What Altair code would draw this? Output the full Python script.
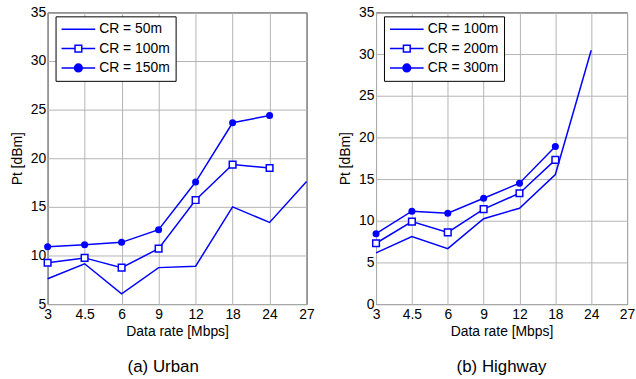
import altair as alt
import pandas as pd

# Data rates on the x axis (evenly spaced categories)
rates = ["3", "4.5", "6", "9", "12", "18", "24", "27"]

# Urban scenario: transmit power [dBm] per coverage range
urban_names = ["CR = 50m", "CR = 100m", "CR = 150m"]
urban_cr50 = [7.6, 9.15, 6.05, 8.75, 8.9, 15.0, 13.4, 17.6]
urban_cr100 = [9.25, 9.75, 8.75, 10.7, 15.7, 19.35, 19.0]
urban_cr150 = [10.9, 11.1, 11.35, 12.65, 17.55, 23.65, 24.4]

# Highway scenario
highway_names = ["CR = 100m", "CR = 200m", "CR = 300m"]
highway_cr100 = [6.15, 8.1, 6.65, 10.25, 11.5, 15.55, 30.45]
highway_cr200 = [7.3, 9.9, 8.6, 11.4, 13.3, 17.3]
highway_cr300 = [8.45, 11.15, 10.9, 12.7, 14.5, 18.9]

BLUE = "#0000ff"
FONT = "Liberation Sans"

# Legend glyphs: plain line, line with open square, line with filled circle
LEGEND_PATHS = [
    "M-1,0H1",
    "M-1,0H-0.2M0.2,0H1M-0.2,-0.2H0.2V0.2H-0.2Z",
    "M-1,0H1M0.23,0A0.23,0.23 0 1,1 -0.23,0A0.23,0.23 0 1,1 0.23,0Z",
]


def long_table(names, series):
    rows = []
    for name, vals in zip(names, series):
        for r, v in zip(rates, vals):
            rows.append({"rate": r, "pt": v, "series": name})
    return pd.DataFrame(rows)


def panel(names, series, ymin, caption, dx, width):
    df = long_table(names, series)
    base = alt.Chart(df)
    x = alt.X(
        "rate:O",
        sort=rates,
        scale=alt.Scale(type="point", padding=0, domain=rates),
        axis=alt.Axis(title="Data rate [Mbps]", labelAngle=0, grid=True,
                      ticks=False, labelPadding=4, titlePadding=3),
    )
    y = alt.Y(
        "pt:Q",
        scale=alt.Scale(domain=[ymin, 35], nice=False, zero=False),
        axis=alt.Axis(title="Pt [dBm]", values=list(range(ymin, 36, 5)),
                      grid=True, ticks=False, labelPadding=2, titlePadding=6),
    )
    lines = base.mark_line(color=BLUE, strokeWidth=1.5).encode(
        x=x, y=y, detail="series:N"
    )
    squares = (
        base.transform_filter(alt.datum.series == names[1])
        .mark_point(shape="square", filled=True, fill="white", stroke=BLUE,
                    strokeWidth=1.5, size=45, opacity=1)
        .encode(x=x, y=y)
    )
    circles = (
        base.transform_filter(alt.datum.series == names[2])
        .mark_circle(color=BLUE, size=50, opacity=1)
        .encode(x=x, y=y)
    )
    leg = alt.Legend(
        title=None, orient="none", legendX=8, legendY=4,
        labelFont=FONT, labelFontSize=14, labelColor="black",
        strokeColor="black", fillColor="white", padding=5,
        clipHeight=16, rowPadding=3.5, symbolStrokeWidth=1.5, labelOffset=3,
        labelLimit=200, symbolSize=1150,
    )
    legend_layer = (
        base.transform_filter("false")
        .mark_point(filled=True, strokeWidth=1.5, opacity=1)
        .encode(
            shape=alt.Shape("series:N", scale=alt.Scale(domain=names, range=LEGEND_PATHS), legend=leg),
            fill=alt.Fill("series:N", scale=alt.Scale(domain=names, range=["white", "white", BLUE]), legend=leg),
            stroke=alt.Stroke("series:N", scale=alt.Scale(domain=names, range=[BLUE, BLUE, BLUE]), legend=leg),
        )
    )
    return alt.layer(lines, squares, circles, legend_layer).properties(
        width=width,
        height=294,
        title=alt.TitleParams(caption, orient="bottom", fontSize=17,
                              fontWeight="normal", font=FONT, color="black",
                              offset=20, dx=dx),
    )


left = panel(urban_names, [urban_cr50, urban_cr100, urban_cr150], 5, "(a) Urban", -14, 261)
right = panel(highway_names, [highway_cr100, highway_cr200, highway_cr300], 0, "(b) Highway", 0, 253)

chart = (
    alt.hconcat(left, right, spacing=22)
    .resolve_scale(shape="independent", fill="independent", stroke="independent")
    .resolve_legend(shape="independent", fill="independent", stroke="independent")
    .properties(padding={"left": 9, "top": 3, "right": 0, "bottom": 0})
    .configure_view(stroke="black", strokeWidth=1)
    .configure_axis(
        labelFont=FONT, labelFontSize=14, labelColor="black",
        titleFont=FONT, titleFontSize=14, titleFontWeight="normal", titleColor="black",
        domain=False, gridColor="#b4b4b4", gridWidth=1, gridOpacity=1,
    )
)

chart.save("out.html", embed_options={"renderer": "svg", "actions": False})
